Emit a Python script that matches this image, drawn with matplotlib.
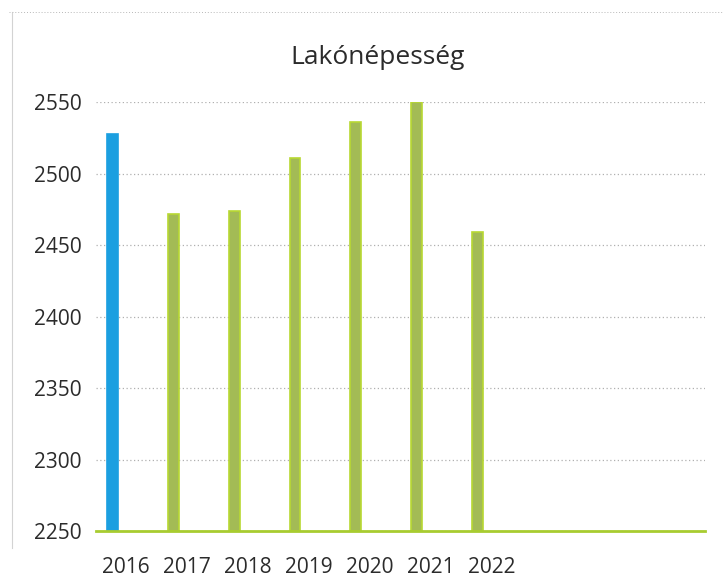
# Lakónépesség oszlopdiagram
import matplotlib.pyplot as plt
from matplotlib.lines import Line2D

years = ['2016', '2017', '2018', '2019', '2020', '2021', '2022']
population = [2528, 2472, 2474, 2511, 2536, 2550, 2459]
bar_colors = ['#1b9fe0', '#a3bb55', '#a3bb55', '#a3bb55', '#a3bb55', '#a3bb55', '#a3bb55']
edge_colors = ['#1b9fe0', '#b8d832', '#b8d832', '#b8d832', '#b8d832', '#b8d832', '#b8d832']
y_ticks = [2250, 2300, 2350, 2400, 2450, 2500, 2550]

plt.rcParams['font.family'] = ['Open Sans', 'DejaVu Sans']

fig = plt.figure(figsize=(7.26, 5.77), dpi=100)
ax = fig.add_axes([0.132, 0.0797, 0.839, 0.7433])

pos = list(range(len(years)))
bar_x = [p - 0.23 for p in pos]
ax.bar(bar_x, [v - 2250 for v in population], bottom=2250, width=0.18,
       color=bar_colors, edgecolor=edge_colors, linewidth=1.2, zorder=3)

ax.set_xlim(-0.5, 9.5)
ax.set_ylim(2250, 2550)
ax.set_yticks(y_ticks)
ax.set_xticks(pos)
ax.set_xticklabels(years)
ax.tick_params(axis='both', length=0, labelsize=15, colors='#2b2b2b')
ax.tick_params(axis='y', pad=10)
ax.tick_params(axis='x', pad=19)

ax.grid(axis='y', color='#b0b0b0', linestyle=(0, (1, 2)), linewidth=0.9, zorder=0)
for s in ['top', 'right', 'left']:
    ax.spines[s].set_visible(False)
ax.spines['bottom'].set_color('#a8cc30')
ax.spines['bottom'].set_linewidth(2)
ax.spines['bottom'].set_zorder(4)

fig.text(0.52, 0.9, 'Lakónépesség', ha='center', va='center',
         fontsize=19, color='#2b2b2b')

# halvany szkennelt keret
fig.add_artist(Line2D([0.012, 0.995], [0.98, 0.98], color='#9a9a9a',
                      linestyle=(0, (1, 2)), linewidth=0.7, alpha=0.7))
fig.add_artist(Line2D([0.017, 0.017], [0.05, 0.98], color='#c8c8c8',
                      linewidth=0.8, alpha=0.8))

fig.savefig('out.png', dpi=100, facecolor='white')
